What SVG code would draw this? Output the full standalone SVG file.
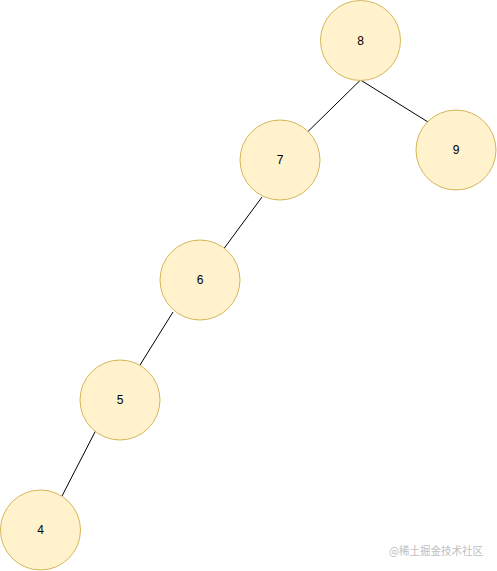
<svg xmlns="http://www.w3.org/2000/svg" width="497" height="571" viewBox="0 0 497 571">
<style>
.n circle{fill:#fff2cc;stroke:#d6b656;stroke-width:1}
.n text{font-family:"Liberation Sans",Arial,sans-serif;font-size:12px;fill:#000;text-anchor:middle;dominant-baseline:central}
.e line{stroke:#000;stroke-width:1}
.wm{font-family:"Noto Sans CJK SC",sans-serif;font-size:11px;fill:#c0c0c0}
</style>
<rect width="497" height="571" fill="#fff"/>
<g class="e" id="connectors">
<line x1="360.5" y1="80" x2="308" y2="131.5"/>
<line x1="360.5" y1="80" x2="428" y2="122"/>
<line x1="262" y1="197" x2="224" y2="248.5"/>
<line x1="173" y1="312" x2="140" y2="365"/>
<line x1="96" y1="430" x2="62" y2="496"/>
</g>
<g class="n" id="node8"><circle cx="360.5" cy="40.5" r="40"/><text x="360.5" y="40.5">8</text></g>
<g class="n" id="node7"><circle cx="280" cy="160" r="40"/><text x="280" y="160">7</text></g>
<g class="n" id="node9"><circle cx="456" cy="150" r="40"/><text x="456" y="150">9</text></g>
<g class="n" id="node6"><circle cx="200" cy="280" r="40"/><text x="200" y="280">6</text></g>
<g class="n" id="node5"><circle cx="120" cy="400" r="40"/><text x="120" y="400">5</text></g>
<g class="n" id="node4"><circle cx="40.5" cy="530" r="40"/><text x="40.5" y="530">4</text></g>
<text class="wm" x="389" y="555" textLength="94" lengthAdjust="spacingAndGlyphs">@稀土掘金技术社区</text>
</svg>
